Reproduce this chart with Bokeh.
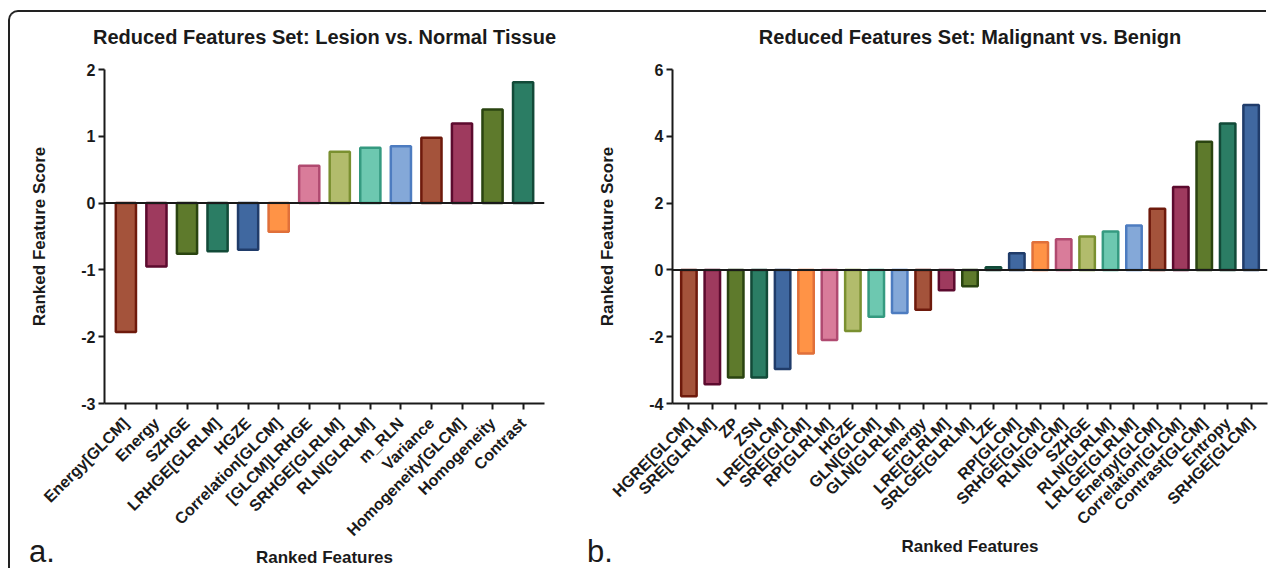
import math
from bokeh.plotting import figure
from bokeh.layouts import row
from bokeh.models import ColumnDataSource, Range1d, FixedTicker, Span, Div
from bokeh.embed import file_html
from bokeh.resources import INLINE

# ---- data ----
features_a = ["Energy[GLCM]", "Energy", "SZHGE", "LRHGE[GLRLM]", "HGZE", "Correlation[GLCM]",
              "[GLCM]LRHGE", "SRHGE[GLRLM]", "RLN[GLRLM]", "m_RLN", "Variance",
              "Homogeneity[GLCM]", "Homogeneity", "Contrast"]
scores_a = [-1.93, -0.95, -0.76, -0.72, -0.70, -0.43, 0.56, 0.77, 0.83, 0.85, 0.98, 1.19, 1.40, 1.81]

features_b = ["HGRE[GLCM]", "SRE[GLRLM]", "ZP", "ZSN", "LRE[GLCM]", "SRE[GLCM]", "RP[GLRLM]",
              "HGZE", "GLN[GLCM]", "GLN[GLRLM]", "Energy", "LRE[GLRLM]", "SRLGE[GLRLM]", "LZE",
              "RP[GLCM]", "SRHGE[GLCM]", "RLN[GLCM]", "SZHGE", "RLN[GLRLM]", "LRLGE[GLRLM]",
              "Energy[GLCM]", "Correlation[GLCM]", "Contrast[GLCM]", "Entropy", "SRHGE[GLCM]"]
scores_b = [-3.78, -3.42, -3.22, -3.22, -2.97, -2.50, -2.10, -1.83, -1.40, -1.29, -1.19, -0.61,
            -0.49, 0.08, 0.50, 0.83, 0.92, 1.00, 1.15, 1.33, 1.83, 2.48, 3.84, 4.38, 4.94]

ticks_a = [-3, -2, -1, 0, 1, 2]
ticks_b = [-4, -2, 0, 2, 4, 6]

fill_palette = ["#A4533B", "#9E3A5E", "#5E7A2C", "#2B7D64", "#4068A0",
                "#FF9346", "#D97C9A", "#B2BC6C", "#6DC8B0", "#84A8D8"]
line_palette = ["#6E1A0C", "#5C0A2E", "#2A4410", "#124A38", "#203C6A",
                "#E0703A", "#B04A70", "#7A9030", "#359A80", "#4D7CC0"]

FONT = "Liberation Sans"
INK = "#1a1a1a"
FIG_H = 570
FRAME_H = 334
TOP = 69
PAD = 0.7


def make_panel(title, feats, scores, ticks, ymin, ymax, width, fw, ml):
    n = len(feats)
    idx = list(range(n))
    src = ColumnDataSource(dict(
        x=idx, top=scores,
        fill=[fill_palette[i % 10] for i in idx],
        line=[line_palette[i % 10] for i in idx],
    ))
    mr = width - ml - fw
    mb = FIG_H - TOP - FRAME_H
    p = figure(x_range=Range1d(-PAD, n - 1 + PAD), y_range=Range1d(ymin, ymax),
               width=width, height=FIG_H, frame_width=fw, frame_height=FRAME_H,
               min_border_left=ml, min_border_right=mr, min_border_top=TOP, min_border_bottom=mb,
               output_backend="svg", toolbar_location=None, title=title)
    p.vbar(x="x", top="top", bottom=0, width=0.66, source=src,
           fill_color="fill", line_color="line", line_width=2.5)
    p.add_layout(Span(location=0, dimension="width", line_color=INK, line_width=2))

    p.title.text_font = FONT
    p.title.text_font_size = "20px"
    p.title.text_font_style = "bold"
    p.title.text_color = INK
    p.title.align = "center"
    p.title.standoff = 43

    p.xgrid.visible = False
    p.ygrid.visible = False
    p.outline_line_color = None

    for ax in (p.xaxis[0], p.yaxis[0]):
        ax.axis_line_width = 2
        ax.axis_line_color = INK
        ax.major_tick_line_width = 2
        ax.major_tick_line_color = INK
        ax.major_tick_in = 0
        ax.major_tick_out = 6
        ax.minor_tick_line_color = None
        ax.major_label_text_font = FONT
        ax.major_label_text_font_style = "bold"
        ax.major_label_text_color = INK
        ax.axis_label_text_font = FONT
        ax.axis_label_text_font_style = "bold"
        ax.axis_label_text_font_size = "17px"
        ax.axis_label_text_color = INK

    p.yaxis.ticker = FixedTicker(ticks=ticks)
    p.yaxis.major_label_overrides = {t: str(t) for t in ticks}
    p.yaxis.major_label_text_font_size = "16px"
    p.yaxis.major_label_standoff = 3
    p.yaxis.axis_label = "Ranked Feature Score"
    p.yaxis.axis_label_standoff = 29

    p.xaxis.ticker = FixedTicker(ticks=idx)
    p.xaxis.major_label_overrides = {i: f for i, f in zip(idx, feats)}
    p.xaxis.major_label_orientation = math.pi / 4
    p.xaxis.major_label_text_font_size = "16px"
    p.xaxis.major_label_standoff = 11
    p.xaxis.axis_label = "Ranked Features"
    p.xaxis.axis_label_standoff = 0
    return p


pa = make_panel("Reduced Features Set: Lesion vs. Normal Tissue", features_a, scores_a, ticks_a,
                -3, 2, 578, 440, 104)
pb = make_panel("Reduced Features Set: Malignant vs. Benign", features_b, scores_b, ticks_b,
                -4, 6, 690, 595, 94)


def tag(text, left):
    return Div(text=text, margin=0,
               styles={"position": "absolute", "left": f"{left}px", "top": "536px",
                       "font-family": FONT, "font-size": "31px", "line-height": "1",
                       "color": INK})


# outer frame of the figure (left and top edges with a rounded corner)
border = Div(text="", margin=0,
             styles={"position": "absolute", "left": "8px", "top": "10px",
                     "width": "1258px", "height": "558px",
                     "border-left": "2px solid #222", "border-top": "2px solid #222",
                     "border-top-left-radius": "10px", "pointer-events": "none"})

layout = row(pa, pb, tag("a.", 29), tag("b.", 587), border, styles={"position": "relative"})

open("out.html", "w").write(file_html(layout, INLINE))
